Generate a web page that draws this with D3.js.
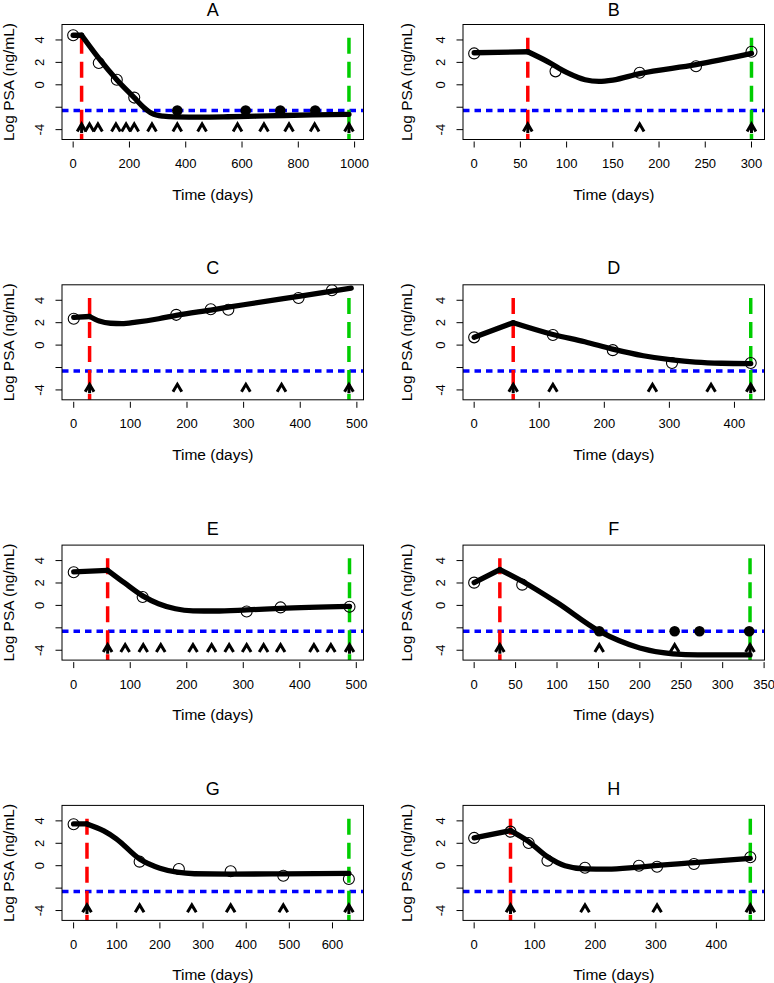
<!DOCTYPE html>
<html>
<head>
<meta charset="utf-8">
<script src="https://cdn.jsdelivr.net/npm/d3@7"></script>
<style>
  html, body { margin: 0; padding: 0; background: #fff; }
  svg { display: block; font-family: "Liberation Sans", Arial, sans-serif; }
</style>
</head>
<body>
<svg id="chart" width="774" height="983"></svg>
<script>
// ---------------- data ----------------
const panelLabels = ["A", "B", "C", "D", "E", "F", "G", "H"];

// x data limits (days) for each panel (R-style, extended by 4%)
const xLimits = [[0, 992], [0, 302], [-1, 492], [0, 429], [-1, 493], [0, 337], [-1, 646], [0, 461]];
const yLimits = [-4.5, 5];

const xTicks = [
  [0, 200, 400, 600, 800, 1000],
  [0, 50, 100, 150, 200, 250, 300],
  [0, 100, 200, 300, 400, 500],
  [0, 100, 200, 300, 400],
  [0, 100, 200, 300, 400, 500],
  [0, 50, 100, 150, 200, 250, 300, 350],
  [0, 100, 200, 300, 400, 500, 600],
  [0, 100, 200, 300, 400]
];
const yTicks = [-4, -2, 0, 2, 4];
const yTickLabels = ["-4", "", "0", "2", "4"];

// treatment start (red) and end (green) times
const startTimes = [30, 58, 28, 60, 60, 31, 31, 60];
const endTimes = [980, 300, 486, 425, 488, 333, 638, 456];
const lineTop = 4.2;          // top of vertical dashed markers
const detectionLimit = -2.303; // log(0.1)
const arrowLevel = -3.5;

// observed PSA (open circles)
const obsA = [[0, 4.42], [91, 1.95], [155, 0.45], [217, -1.14]];
const obsB = [[0, 2.8], [88, 1.2], [179, 1.08], [240, 1.65], [300, 2.95]];
const obsC = [[0, 2.35], [181, 2.7], [242, 3.2], [273, 3.15], [397, 4.2], [456, 4.9]];
const obsD = [[0, 0.69], [121, 0.9], [213, -0.45], [304, -1.6], [425, -1.6]];
const obsE = [[0, 2.96], [122, 0.75], [306, -0.54], [366, -0.18], [488, -0.12]];
const obsF = [[0, 2.03], [58, 1.85]];
const obsG = [[0, 3.7], [153, 0.36], [244, -0.3], [364, -0.5], [486, -0.9], [638, -1.19]];
const obsH = [[0, 2.48], [60, 3.04], [90, 2.03], [121, 0.45], [183, -0.18], [272, 0], [302, -0.09], [363, 0.15], [456, 0.75]];
const observed = [obsA, obsB, obsC, obsD, obsE, obsF, obsG, obsH];

// censored (below detection) observations (filled dots, drawn at detection limit)
const censoredTimes = [[370, 613, 736, 860], [], [], [], [], [151, 242, 272, 332], [], []];

// visit times (arrow heads)
const visitTimes = [
  [30, 58, 88, 152, 188, 217, 280, 370, 458, 584, 678, 767, 858, 980],
  [58, 179, 300],
  [28, 183, 304, 367, 486],
  [60, 121, 274, 364, 425],
  [60, 91, 123, 154, 211, 244, 275, 306, 336, 366, 425, 455, 488],
  [31, 151, 242, 333],
  [31, 153, 274, 364, 486, 638],
  [60, 183, 302, 456]
];

// fitted trajectories
const fitA = [[0, 4.42], [30, 4.42], [90, 2.4], [155, 0.45], [217, -1.15], [250, -2.0], [280, -2.55], [320, -2.8], [360, -2.87], [450, -2.88], [550, -2.85], [650, -2.8], [750, -2.74], [850, -2.68], [980, -2.63]];
const fitB = [[0, 2.86], [58, 2.95], [80, 2.05], [100, 1.1], [120, 0.45], [135, 0.3], [150, 0.42], [179, 1.0], [240, 1.8], [300, 2.8]];
const fitC = [[0, 2.47], [28, 2.55], [45, 2.15], [65, 1.95], [85, 1.92], [110, 2.05], [150, 2.35], [181, 2.65], [242, 3.13], [300, 3.6], [400, 4.38], [490, 5.08]];
const fitD = [[0, 0.7], [60, 2.0], [121, 0.95], [170, 0.3], [213, -0.36], [260, -0.95], [304, -1.32], [340, -1.52], [380, -1.62], [425, -1.65]];
const fitE = [[0, 3.0], [60, 3.13], [90, 2.0], [122, 0.85], [150, 0.15], [180, -0.3], [211, -0.48], [250, -0.5], [306, -0.4], [366, -0.26], [488, -0.09]];
const fitF = [[0, 2.03], [31, 3.2], [58, 2.15], [100, 0.25], [151, -2.3], [200, -3.8], [240, -4.33], [270, -4.42], [333, -4.42]];
const fitG = [[0, 3.73], [31, 3.73], [70, 3.1], [99, 2.4], [153, 0.6], [200, -0.22], [240, -0.58], [280, -0.72], [364, -0.75], [486, -0.73], [638, -0.69]];
const fitH = [[0, 2.48], [60, 3.13], [90, 2.15], [121, 0.8], [150, 0.0], [183, -0.28], [220, -0.3], [272, -0.12], [363, 0.28], [456, 0.65]];
const fitted = [fitA, fitB, fitC, fitD, fitE, fitF, fitG, fitH];

// ---------------- drawing ----------------
const svg = d3.select("#chart");
svg.append("rect").attr("width", 774).attr("height", 983).attr("fill", "#fff");

const colLeft = [62, 463];
const yTitleOffset = [48, 51];
const boxW = 301.5, boxH = 115;
const rowTop0 = 24.5, rowStep = 260.3;

function extend(lim) {
  const r = lim[1] - lim[0];
  return [lim[0] - 0.04 * r, lim[1] + 0.04 * r];
}

panelLabels.forEach((label, i) => {
  const col = i % 2, row = Math.floor(i / 2);
  const left = colLeft[col], top = rowTop0 + row * rowStep;
  const right = left + boxW, bottom = top + boxH;

  const x = d3.scaleLinear().domain(extend(xLimits[i])).range([left, right]);
  const y = d3.scaleLinear().domain(extend(yLimits)).range([bottom, top]);

  const g = svg.append("g");
  const clipId = "clip" + i;
  g.append("clipPath").attr("id", clipId)
    .append("rect").attr("x", left).attr("y", top).attr("width", boxW).attr("height", boxH);
  const plot = g.append("g").attr("clip-path", `url(#${clipId})`);

  // detection limit
  plot.append("line")
    .attr("x1", left).attr("x2", right)
    .attr("y1", y(detectionLimit)).attr("y2", y(detectionLimit))
    .attr("stroke", "#0000ff").attr("stroke-width", 3.5)
    .attr("stroke-dasharray", "6.5,5");

  // treatment markers
  [[startTimes[i], "#ff0000"], [endTimes[i], "#00cd00"]].forEach(([t, c]) => {
    plot.append("line")
      .attr("x1", x(t)).attr("x2", x(t))
      .attr("y1", y(lineTop)).attr("y2", bottom + 2)
      .attr("stroke", c).attr("stroke-width", 3.5)
      .attr("stroke-dasharray", "16,8");
  });

  // fitted curve: linear before treatment start, smooth after
  const pre = fitted[i].filter(d => d[0] <= startTimes[i]);
  const post = fitted[i].filter(d => d[0] >= startTimes[i]);
  const linePre = d3.line().x(d => x(d[0])).y(d => y(d[1])).curve(d3.curveLinear);
  const linePost = d3.line().x(d => x(d[0])).y(d => y(d[1])).curve(d3.curveMonotoneX);
  [[pre, linePre], [post, linePost]].forEach(([pts, gen]) => {
    if (pts.length > 1) {
      plot.append("path").attr("d", gen(pts))
        .attr("fill", "none").attr("stroke", "#000").attr("stroke-width", 5.3)
        .attr("stroke-linecap", "round").attr("stroke-linejoin", "round");
    }
  });

  // observed points
  plot.selectAll(".obs").data(observed[i]).enter().append("circle")
    .attr("cx", d => x(d[0])).attr("cy", d => y(d[1])).attr("r", 5.5)
    .attr("fill", "none").attr("stroke", "#000").attr("stroke-width", 1.1);

  // censored points
  plot.selectAll(".cens").data(censoredTimes[i]).enter().append("circle")
    .attr("cx", d => x(d)).attr("cy", y(detectionLimit)).attr("r", 5.3)
    .attr("fill", "#000");

  // visit arrows
  const tipY = y(arrowLevel);
  visitTimes[i].forEach(t => {
    const cx = x(t);
    plot.append("path")
      .attr("d", `M${cx - 4.4},${tipY + 7.4}L${cx},${tipY}L${cx + 4.4},${tipY + 7.4}`)
      .attr("fill", "none").attr("stroke", "#000").attr("stroke-width", 3)
      .attr("stroke-linejoin", "miter");
    if (t === startTimes[i] || t === endTimes[i]) {
      plot.append("line").attr("x1", cx).attr("x2", cx)
        .attr("y1", tipY).attr("y2", tipY + 9)
        .attr("stroke", "#000").attr("stroke-width", 3);
    }
  });

  // box
  g.append("rect").attr("x", left).attr("y", top).attr("width", boxW).attr("height", boxH)
    .attr("fill", "none").attr("stroke", "#000").attr("stroke-width", 1);

  // x axis
  xTicks[i].forEach(t => {
    g.append("line").attr("x1", x(t)).attr("x2", x(t))
      .attr("y1", bottom + 2).attr("y2", bottom + 8)
      .attr("stroke", "#000").attr("stroke-width", 1);
    g.append("text").attr("x", x(t)).attr("y", bottom + 28.5)
      .attr("text-anchor", "middle").attr("font-size", 13).attr("fill", "#000")
      .text(t);
  });

  // y axis
  yTicks.forEach((t, k) => {
    g.append("line").attr("x1", left - 6.5).attr("x2", left)
      .attr("y1", y(t)).attr("y2", y(t))
      .attr("stroke", "#000").attr("stroke-width", 1);
    if (yTickLabels[k] !== "") {
      g.append("text")
        .attr("transform", `translate(${left - 18.3},${y(t)}) rotate(-90)`)
        .attr("text-anchor", "middle").attr("font-size", 13).attr("fill", "#000")
        .text(yTickLabels[k]);
    }
  });

  // titles
  g.append("text").attr("x", (left + right) / 2).attr("y", Math.max(top - 10.5, 16))
    .attr("text-anchor", "middle").attr("font-size", 18).attr("fill", "#000")
    .text(label);
  g.append("text").attr("x", (left + right) / 2).attr("y", bottom + 60)
    .attr("text-anchor", "middle").attr("font-size", 15.5).attr("fill", "#000")
    .text("Time (days)");
  g.append("text")
    .attr("transform", `translate(${left - yTitleOffset[col]},${(top + bottom) / 2}) rotate(-90)`)
    .attr("text-anchor", "middle").attr("font-size", 15.5).attr("fill", "#000")
    .text("Log PSA (ng/mL)");
});
</script>
</body>
</html>
